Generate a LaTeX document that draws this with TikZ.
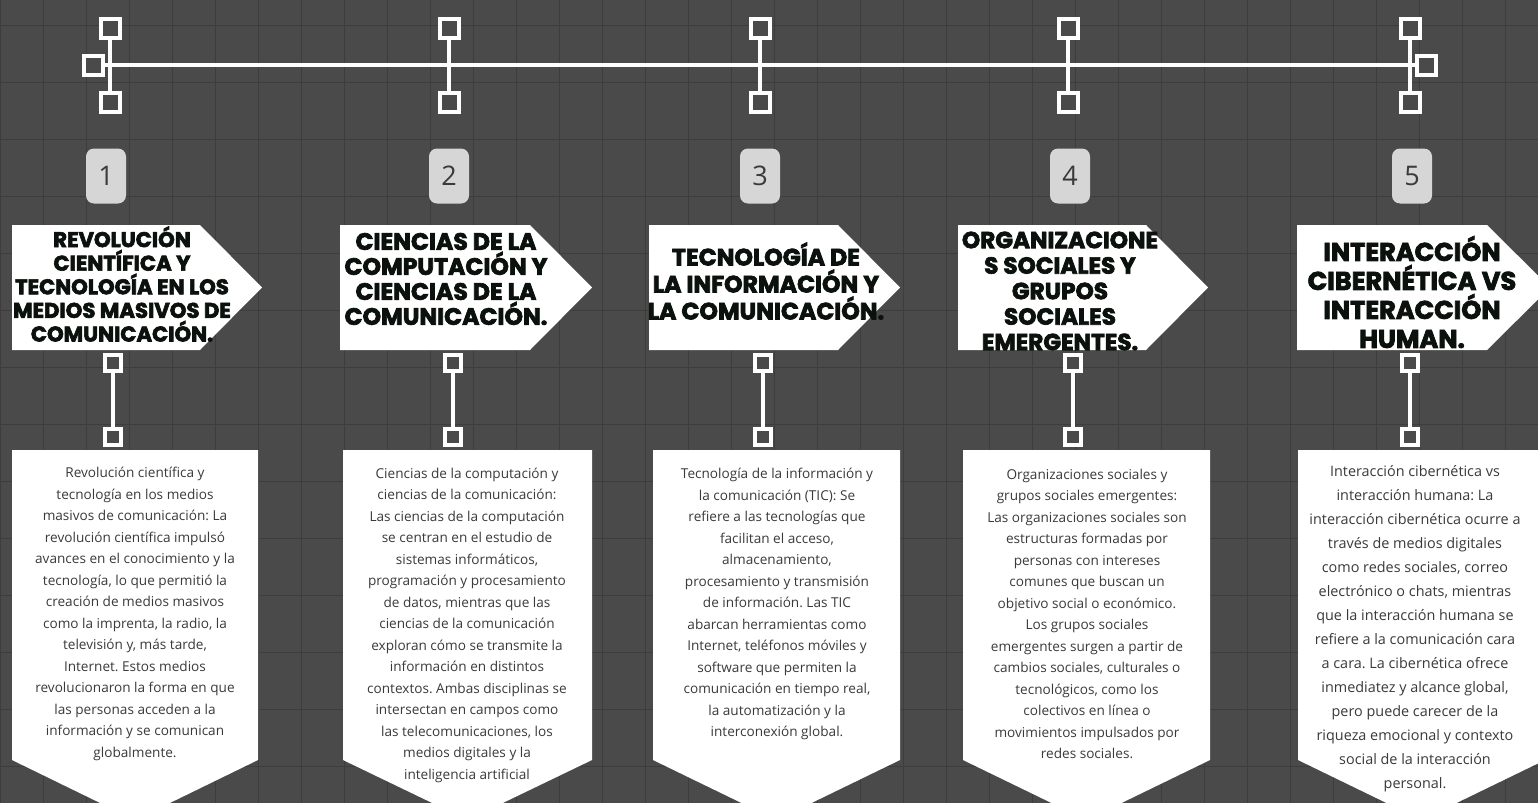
\documentclass[tikz,border=0pt]{standalone}
\usepackage{fontspec}
\usepackage{tikz}
\setmainfont{Open Sans}
\newfontfamily\headfont{Poppins}[FakeBold=3]
\newfontfamily\numfont{Open Sans}
\frenchspacing

\definecolor{bggray}{HTML}{4A4A4A}
\definecolor{gridgray}{HTML}{3D3D3D}
\definecolor{badgegray}{HTML}{D6D6D6}
\definecolor{inkgray}{HTML}{3A3A3A}
\definecolor{headink}{HTML}{0B120D}

\begin{document}
\begin{tikzpicture}[x=0.5pt, y=-0.5pt]
    \tikzstyle{sqbig} = [draw=white, line width=2pt, fill=bggray, minimum size=9.5pt, inner sep=0pt];
    \tikzstyle{sqsmall} = [draw=white, line width=1.8pt, fill=bggray, minimum size=8.2pt, inner sep=0pt];
    \tikzstyle{link} = [draw=white, line width=2pt];
    \tikzstyle{badge} = [fill=badgegray, rounded corners=4pt, minimum width=20pt, minimum height=27.5pt, inner sep=0pt, text=inkgray, font=\numfont\fontsize{13.5}{13.5}\selectfont];
    \tikzstyle{head} = [align=center, text=headink, inner sep=0pt];
    \tikzstyle{body} = [align=center, text=inkgray, inner sep=0pt, font=\fontsize{6.8}{10.75}\selectfont];
    \tikzstyle{panel} = [fill=white];

    \useasboundingbox (0,0) rectangle (1538,803);
    \fill[bggray] (0,0) rectangle (1538,803);
    % grid paper
    \foreach \gx in {0,43,...,1538}
        \draw[gridgray, line width=0.5pt] (\gx,0) -- (\gx,803);
    \foreach \gy in {25,82,...,803}
        \draw[gridgray, line width=0.5pt] (0,\gy) -- (1538,\gy);

    % timeline
    \node[sqbig] (L) at (93,65) {};
    \node[sqbig] (R) at (1426,65) {};
    \foreach \n/\x in {1/110, 2/449, 3/760, 4/1068, 5/1410} {
        \node[sqbig] (top\n) at (\x,28) {};
        \node[sqbig] (bot\n) at (\x,102) {};
        \path[link] (top\n) -- (bot\n);
    }
    \path[link] (L) -- (R);
    \node[sqbig] at (L) {};
    \node[sqbig] at (R) {};

    % numbers
    \node[badge] (n1) at (106,176) {1};
    \node[badge] (n2) at (449,176) {2};
    \node[badge] (n3) at (760,176) {3};
    \node[badge] (n4) at (1070,176) {4};
    \node[badge] (n5) at (1412,176) {5};

    % title arrows
    \fill[panel] (12,225) -- (200,225) -- (262,287.5) -- (200,350) -- (12,350) -- cycle;
    \fill[panel] (340,225) -- (530,225) -- (592,287.5) -- (530,350) -- (340,350) -- cycle;
    \fill[panel] (649,225) -- (838,225) -- (900,287.5) -- (838,350) -- (649,350) -- cycle;
    \fill[panel] (958,225) -- (1146,225) -- (1208,287.5) -- (1146,350) -- (958,350) -- cycle;
    \fill[panel] (1297,225) -- (1487,225) -- (1550,287.5) -- (1487,350) -- (1297,350) -- cycle;

    \node[head, font=\headfont\bfseries\fontsize{10.6}{11.8}\selectfont] (h1) at (122,284)
        {REVOLUCIÓN\\CIENTÍFICA Y\\TECNOLOGÍA EN LOS\\MEDIOS MASIVOS DE\\COMUNICACIÓN.};
    \node[head, font=\headfont\bfseries\fontsize{11.8}{12.5}\selectfont] (h2) at (446,279)
        {CIENCIAS DE LA\\COMPUTACIÓN Y\\CIENCIAS DE LA\\COMUNICACIÓN.};
    \node[head, font=\headfont\bfseries\fontsize{11.8}{13.5}\selectfont] (h3) at (766,281)
        {TECNOLOGÍA DE\\LA INFORMACIÓN Y\\LA COMUNICACIÓN.};
    \node[head, font=\headfont\bfseries\fontsize{11.6}{12.75}\selectfont] (h4) at (1060,291)
        {ORGANIZACIONE\\S SOCIALES Y\\GRUPOS\\SOCIALES\\EMERGENTES.};
    \node[head, font=\headfont\bfseries\fontsize{12.8}{14.5}\selectfont] (h5) at (1412,292)
        {INTERACCIÓN\\CIBERNÉTICA VS\\INTERACCIÓN\\HUMAN.};

    % stems
    \foreach \n/\x in {1/113, 2/453, 3/763, 4/1073, 5/1410} {
        \node[sqsmall] (s\n) at (\x,363) {};
        \node[sqsmall] (e\n) at (\x,437) {};
        \path[link] (s\n) -- (e\n);
    }

    % description panels
    \fill[panel] (12,450) -- (258,450) -- (258,760) -- (135,820) -- (12,760) -- cycle;
    \fill[panel] (343,450) -- (592,450) -- (592,760) -- (467.5,820) -- (343,760) -- cycle;
    \fill[panel] (653,450) -- (900,450) -- (900,760) -- (776.5,820) -- (653,760) -- cycle;
    \fill[panel] (963,450) -- (1210,450) -- (1210,760) -- (1086.5,820) -- (963,760) -- cycle;
    \fill[panel] (1298,450) -- (1545,450) -- (1545,760) -- (1421.5,820) -- (1298,760) -- cycle;

    \node[body] (d1) at (135,614)
        {Revolución científica y\\tecnología en los medios\\masivos de comunicación: La\\revolución científica impulsó\\avances en el conocimiento y la\\tecnología, lo que permitió la\\creación de medios masivos\\como la imprenta, la radio, la\\televisión y, más tarde,\\Internet. Estos medios\\revolucionaron la forma en que\\las personas acceden a la\\información y se comunican\\globalmente.};
    \node[body] (d2) at (467,625)
        {Ciencias de la computación y\\ciencias de la comunicación:\\Las ciencias de la computación\\se centran en el estudio de\\sistemas informáticos,\\programación y procesamiento\\de datos, mientras que las\\ciencias de la comunicación\\exploran cómo se transmite la\\información en distintos\\contextos. Ambas disciplinas se\\intersectan en campos como\\las telecomunicaciones, los\\medios digitales y la\\inteligencia artificial};
    \node[body] (d3) at (777,604)
        {Tecnología de la información y\\la comunicación (TIC): Se\\refiere a las tecnologías que\\facilitan el acceso,\\almacenamiento,\\procesamiento y transmisión\\de información. Las TIC\\abarcan herramientas como\\Internet, teléfonos móviles y\\software que permiten la\\comunicación en tiempo real,\\la automatización y la\\interconexión global.};
    \node[body] (d4) at (1087,614)
        {Organizaciones sociales y\\grupos sociales emergentes:\\Las organizaciones sociales son\\estructuras formadas por\\personas con intereses\\comunes que buscan un\\objetivo social o económico.\\Los grupos sociales\\emergentes surgen a partir de\\cambios sociales, culturales o\\tecnológicos, como los\\colectivos en línea o\\movimientos impulsados por\\redes sociales.};
    \node[body, font=\fontsize{7.2}{12}\selectfont] (d5) at (1415,629)
        {Interacción cibernética vs\\interacción humana: La\\interacción cibernética ocurre a\\través de medios digitales\\como redes sociales, correo\\electrónico o chats, mientras\\que la interacción humana se\\refiere a la comunicación cara\\a cara. La cibernética ofrece\\inmediatez y alcance global,\\pero puede carecer de la\\riqueza emocional y contexto\\social de la interacción\\personal.};
\end{tikzpicture}
\end{document}
